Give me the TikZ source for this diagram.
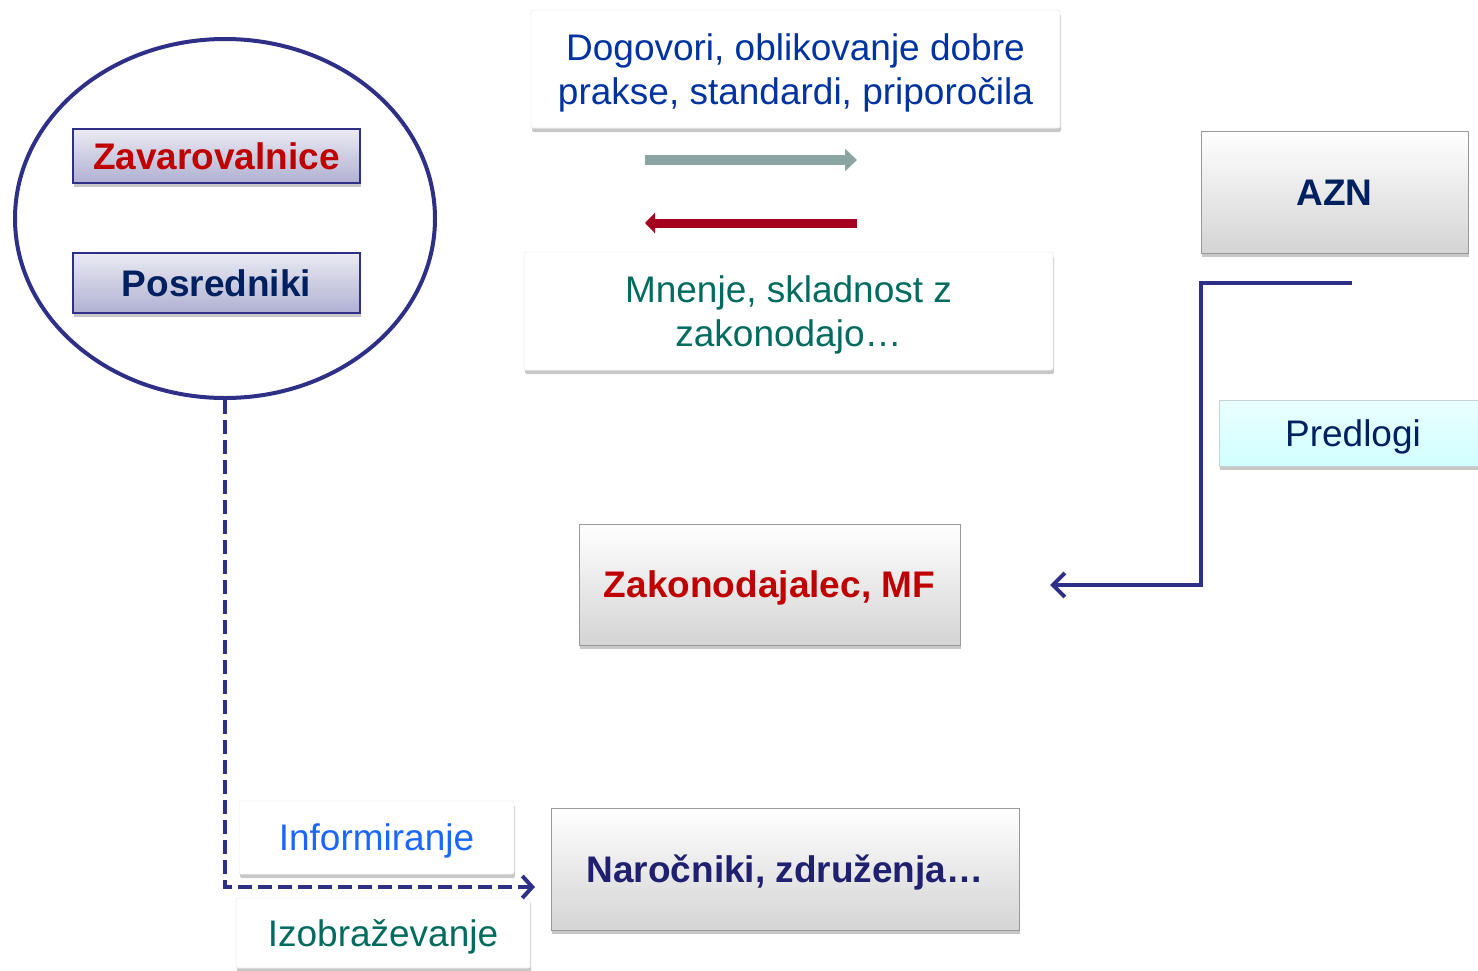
\documentclass[tikz,border=0pt]{standalone}
\usepackage{fontspec}
\setmainfont{Liberation Sans}
\usetikzlibrary{arrows.meta, positioning, shapes.geometric, shadows}
\definecolor{CNavy}{HTML}{2E3087}
\definecolor{CDeep}{HTML}{002060}
\definecolor{CRed}{HTML}{C00000}
\definecolor{CBlue}{HTML}{0033A0}
\definecolor{CTeal}{HTML}{006B5E}
\definecolor{CSky}{HTML}{1A66FF}
\definecolor{CInk}{HTML}{202070}
\definecolor{CSlate}{HTML}{8BA5A5}
\definecolor{CWine}{HTML}{A5001E}

\tikzset{
    boxfont/.style={font=\fontsize{18.5}{22}\selectfont, text height=13.25pt, text depth=0pt},
    boldfont/.style={font=\fontsize{18.5}{22}\selectfont\bfseries, text height=13.25pt, text depth=0pt},
    twolines/.style={text height=35.25pt},
    softshadow/.style={drop shadow={shadow xshift=0.5pt, shadow yshift=-2pt, fill=black, opacity=0.22}},
    whitebox/.style={fill=white, draw=black!6, rounded corners=1pt, softshadow, align=center, inner sep=0pt, boxfont},
    graybox/.style={top color=white, bottom color=black!17, draw=black!40, softshadow, align=center, inner sep=0pt, boldfont},
    lavbox/.style={top color=CNavy!10, bottom color=CNavy!38, draw=CNavy, line width=0.8pt, softshadow, inner sep=0pt, boldfont},
    link/.style={CNavy, line width=2pt}
}

\begin{document}
\begin{tikzpicture}[x=0.5pt, y=-0.5pt]
    \clip (0,0) rectangle (1478,970);

    % Group of insurers and intermediaries
    \node[ellipse, draw=CNavy, line width=2pt, minimum width=210pt, minimum height=179.5pt] (grp) at (225,218.5) {};
    \node[lavbox, text=CRed, minimum width=143.5pt, minimum height=27pt] (zav) at (216.5,156) {Zavarovalnice};
    \node[lavbox, text=CDeep, minimum width=143.5pt, minimum height=30pt] (pos) at (216.5,283) {Posredniki};

    % Exchange with the legislator
    \node[whitebox, twolines, text=CBlue, minimum width=264.5pt, minimum height=59pt] (dog) at (795.5,69) {Dogovori, oblikovanje dobre\\prakse, standardi, priporočila};
    \node[whitebox, twolines, text=CTeal, minimum width=264.5pt, minimum height=59pt] (mne) at (788.5,311) {Mnenje, skladnost z\\zakonodajo…};
    \coordinate (fwdA) at (645,160);
    \coordinate (fwdB) at (857,160);
    \coordinate (bckA) at (857,223);
    \coordinate (bckB) at (645,223);
    \draw[CSlate, line width=5pt, -{Triangle[length=6pt, width=11pt]}] (fwdA) -- (fwdB);
    \draw[CWine, line width=4.5pt, -{Triangle[length=5pt, width=10pt]}] (bckA) -- (bckB);

    % Supervisor
    \node[graybox, text=CDeep, minimum width=133.5pt, minimum height=61pt] (azn) at (1334.5,192) {AZN};
    \node[top color=cyan!8, bottom color=cyan!18, draw=cyan!25!black!25, softshadow, boxfont, text=CDeep, minimum width=134pt, minimum height=33pt, inner sep=0pt] (pre) at (1353,433) {Predlogi};

    % Legislator
    \node[graybox, text=CRed, minimum width=190.5pt, minimum height=60.5pt] (zak) at (769.5,584.5) {Zakonodajalec, MF};
    \coordinate (aznout) at (1352,283);
    \coordinate (zakin) at (1050,585);
    \draw[link, -{Straight Barb[length=6pt, width=12pt]}] (aznout) -- (1201,283) |- (zakin);

    % Customers
    \node[graybox, text=CInk, minimum width=234pt, minimum height=61pt] (nar) at (785,869) {Naročniki, združenja…};
    \node[whitebox, text=CSky, minimum width=137.5pt, minimum height=36.5pt] (inf) at (376.5,837.5) {Informiranje};
    \node[whitebox, text=CTeal, minimum width=147pt, minimum height=35pt] (izo) at (383,933) {Izobraževanje};
    \coordinate (narin) at (535,887);
    \draw[link, dash pattern=on 7pt off 3pt, -{Straight Barb[length=5pt, width=11pt]}] (grp.south) |- (narin);

\end{tikzpicture}
\end{document}
